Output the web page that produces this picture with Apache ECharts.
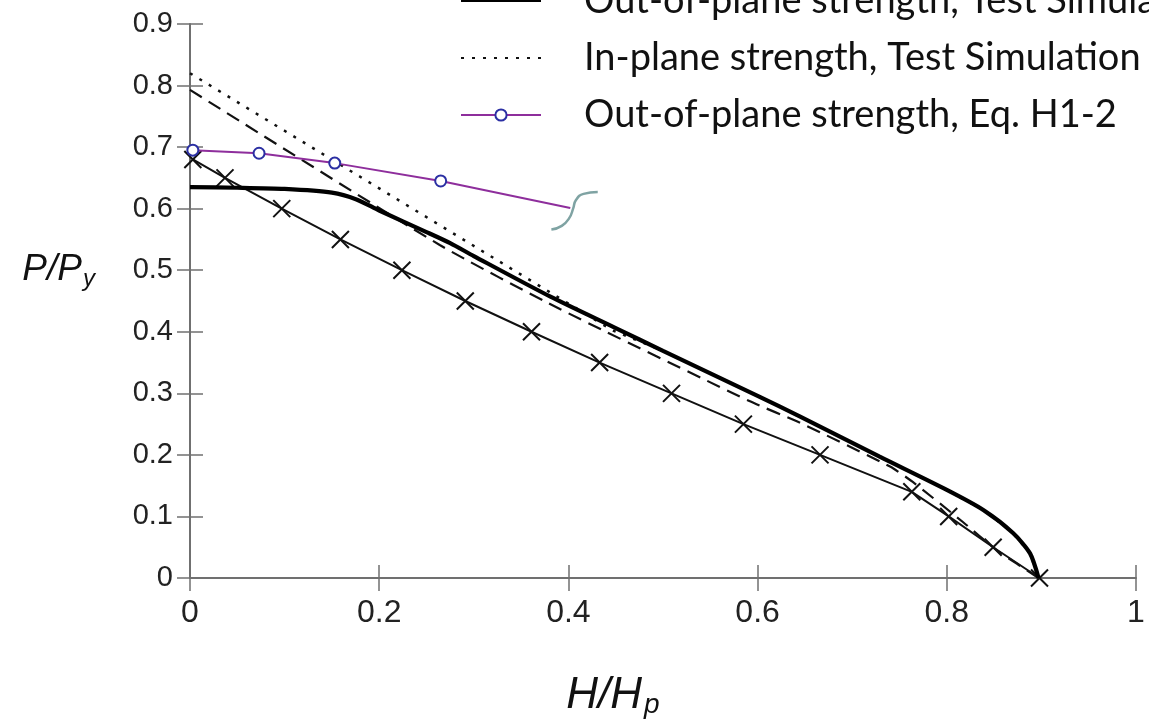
<!DOCTYPE html>
<html><head><meta charset="utf-8">
<script src="https://cdn.jsdelivr.net/npm/echarts@6/dist/echarts.min.js"></script>
<style>html,body{margin:0;padding:0;background:#fff}#c{width:1149px;height:721px}</style>
</head><body><div id="c"></div>
<script>
// ---- data ----
const legendNames = ['Out-of-plane strength, Test Simulation', 'In-plane strength, Test Simulation', 'Out-of-plane strength, Eq. H1-2'];
const xAxisTitle = 'H/H';
const xAxisTitleSub = 'p';
const yAxisTitle = 'P/P';
const yAxisTitleSub = 'y';

const oopSimX = [0, 0.05, 0.10, 0.15, 0.176, 0.20, 0.25, 0.275, 0.30, 0.381, 0.45, 0.50, 0.60, 0.645, 0.729, 0.80, 0.839, 0.870, 0.888, 0.897];
const oopSimY = [0.635, 0.634, 0.632, 0.626, 0.615, 0.597, 0.562, 0.544, 0.523, 0.457, 0.406, 0.369, 0.296, 0.262, 0.197, 0.143, 0.110, 0.073, 0.040, 0.0];

const inPlaneX = [0, 0.447, 0.50, 0.60, 0.645, 0.729, 0.80, 0.839, 0.870, 0.888, 0.897];
const inPlaneY = [0.82, 0.402, 0.369, 0.296, 0.262, 0.197, 0.143, 0.110, 0.073, 0.040, 0.0];

const dashedX = [0, 0.264, 0.391, 0.592, 0.645, 0.74, 0.764, 0.817, 0.853, 0.897];
const dashedY = [0.793, 0.541, 0.437, 0.287, 0.252, 0.181, 0.156, 0.091, 0.045, 0.0];

const crossX = [0.003, 0.037, 0.097, 0.159, 0.224, 0.291, 0.361, 0.433, 0.509, 0.585, 0.666, 0.763, 0.802, 0.849, 0.898];
const crossY = [0.68, 0.65, 0.60, 0.55, 0.50, 0.45, 0.40, 0.35, 0.30, 0.25, 0.20, 0.14, 0.10, 0.05, 0.0];

const eqX = [0.003, 0.073, 0.153, 0.265, 0.402];
const eqY = [0.695, 0.690, 0.674, 0.645, 0.601];
const eqMarked = [true, true, true, true, false];

const breakX = [0.382, 0.393, 0.401, 0.405, 0.408, 0.416, 0.431];
const breakY = [0.566, 0.572, 0.585, 0.600, 0.614, 0.624, 0.627];

// ---- helpers ----
const zip = (xs, ys) => xs.map((x, i) => [x, ys[i]]);
const eqData = eqX.map((x, i) => eqMarked[i] ? [x, eqY[i]] : { value: [x, eqY[i]], symbol: 'none' });
const hiddenSymbol = { color: 'rgba(0,0,0,0)', borderColor: 'rgba(0,0,0,0)', borderWidth: 0, opacity: 0 };

const axisGray = '#707070';
const labelFont = "'Liberation Sans', Arial, sans-serif";
const crossPath = 'path://M0,0L10,10M10,0L0,10';

const chart = echarts.init(document.getElementById('c'), null, { renderer: 'canvas' });
chart.setOption({
  animation: false,
  backgroundColor: '#fff',
  grid: { left: 190, right: 13, top: 24, bottom: 143, containLabel: false, outerBoundsMode: 'none' },
  legend: {
    data: [
      { name: legendNames[0], itemStyle: hiddenSymbol },
      { name: legendNames[1], itemStyle: hiddenSymbol },
      { name: legendNames[2] }
    ],
    orient: 'vertical',
    left: 460,
    top: -19,
    padding: 0,
    itemWidth: 80,
    itemHeight: 14,
    itemGap: 17,
    selectedMode: false,
    textStyle: {
      fontFamily: "Lato, 'Open Sans', sans-serif",
      fontSize: 38,
      lineHeight: 40,
      color: '#111',
      padding: [0, 0, 0, 38]
    }
  },
  xAxis: [{
    type: 'value', min: 0, max: 1, interval: 0.2,
    position: 'bottom',
    axisLine: { show: true, onZero: false, lineStyle: { color: axisGray, width: 2 } },
    axisTick: { show: true, inside: false, length: 13, lineStyle: { color: axisGray, width: 1.5 } },
    splitLine: { show: false },
    axisLabel: {
      margin: 19, color: '#222', fontSize: 32,
      fontFamily: labelFont,
      formatter: v => String(+v.toFixed(1))
    },
    name: '{a|' + xAxisTitle + '}{b|' + xAxisTitleSub + '}',
    nameLocation: 'middle',
    nameGap: 95,
    nameTextStyle: {
      padding: [0, 100, 0, 0],
      rich: {
        a: { fontSize: 44, fontStyle: 'italic', fontFamily: labelFont, color: '#111' },
        b: { fontSize: 28, fontStyle: 'italic', fontFamily: labelFont, color: '#111', padding: [18, 0, 0, 2] }
      }
    }
  }, {
    type: 'value', min: 0, max: 1, interval: 0.2,
    position: 'bottom',
    axisLine: { show: false },
    axisTick: { show: true, inside: true, length: 13, lineStyle: { color: axisGray, width: 1.5 } },
    axisLabel: { show: false },
    splitLine: { show: false }
  }],
  yAxis: [{
    type: 'value', min: 0, max: 0.9, interval: 0.1,
    position: 'left',
    axisLine: { show: true, onZero: false, lineStyle: { color: axisGray, width: 2 } },
    axisTick: { show: true, inside: false, length: 13, lineStyle: { color: axisGray, width: 1.5 } },
    splitLine: { show: false },
    axisLabel: {
      margin: 17, color: '#222', fontSize: 29, fontFamily: labelFont,
      formatter: v => String(+v.toFixed(1))
    },
    name: '{a|' + yAxisTitle + '}{b|' + yAxisTitleSub + '}',
    nameLocation: 'middle',
    nameRotate: 0,
    nameGap: 95,
    nameTextStyle: {
      padding: [0, 0, 62, 0],
      rich: {
        a: { fontSize: 37, fontStyle: 'italic', fontFamily: labelFont, color: '#111' },
        b: { fontSize: 24, fontStyle: 'italic', fontFamily: labelFont, color: '#111', padding: [18, 0, 0, 1] }
      }
    }
  }, {
    type: 'value', min: 0, max: 0.9, interval: 0.1,
    position: 'left',
    axisLine: { show: false },
    axisTick: { show: true, inside: true, length: 13, lineStyle: { color: axisGray, width: 1.5 } },
    axisLabel: { show: false },
    splitLine: { show: false }
  }],
  series: [
    {
      name: 'Cross series', type: 'line', data: zip(crossX, crossY),
      symbol: crossPath, symbolSize: 17,
      itemStyle: { color: 'rgba(0,0,0,0)', borderColor: '#111', borderWidth: 2 },
      lineStyle: { color: '#111', width: 2 }, z: 3
    },
    {
      name: 'Dashed series', type: 'line', data: zip(dashedX, dashedY),
      symbol: 'none', smooth: 0.2,
      lineStyle: { color: '#111', width: 2.2, type: [14, 8] }, z: 3
    },
    {
      name: legendNames[1], type: 'line', data: zip(inPlaneX, inPlaneY),
      symbol: 'circle', showSymbol: false,
      itemStyle: { color: '#111' },
      lineStyle: { color: '#111', width: 2.5, type: [3, 8] }, z: 3
    },
    {
      name: legendNames[0], type: 'line', data: zip(oopSimX, oopSimY),
      symbol: 'circle', showSymbol: false, smooth: 0.25,
      itemStyle: { color: '#000' },
      lineStyle: { color: '#000', width: 4.2 }, z: 4
    },
    {
      name: legendNames[2], type: 'line', data: eqData,
      symbol: 'circle', symbolSize: 11,
      itemStyle: { color: '#fff', borderColor: '#2b2fa3', borderWidth: 2 },
      lineStyle: { color: '#8e2e9c', width: 2 }, z: 5
    },
    {
      name: 'Break mark', type: 'line', data: zip(breakX, breakY),
      symbol: 'none', smooth: 0.5,
      lineStyle: { color: '#7fa3a3', width: 2.5 }, z: 6
    }
  ]
});
</script>
</body></html>
